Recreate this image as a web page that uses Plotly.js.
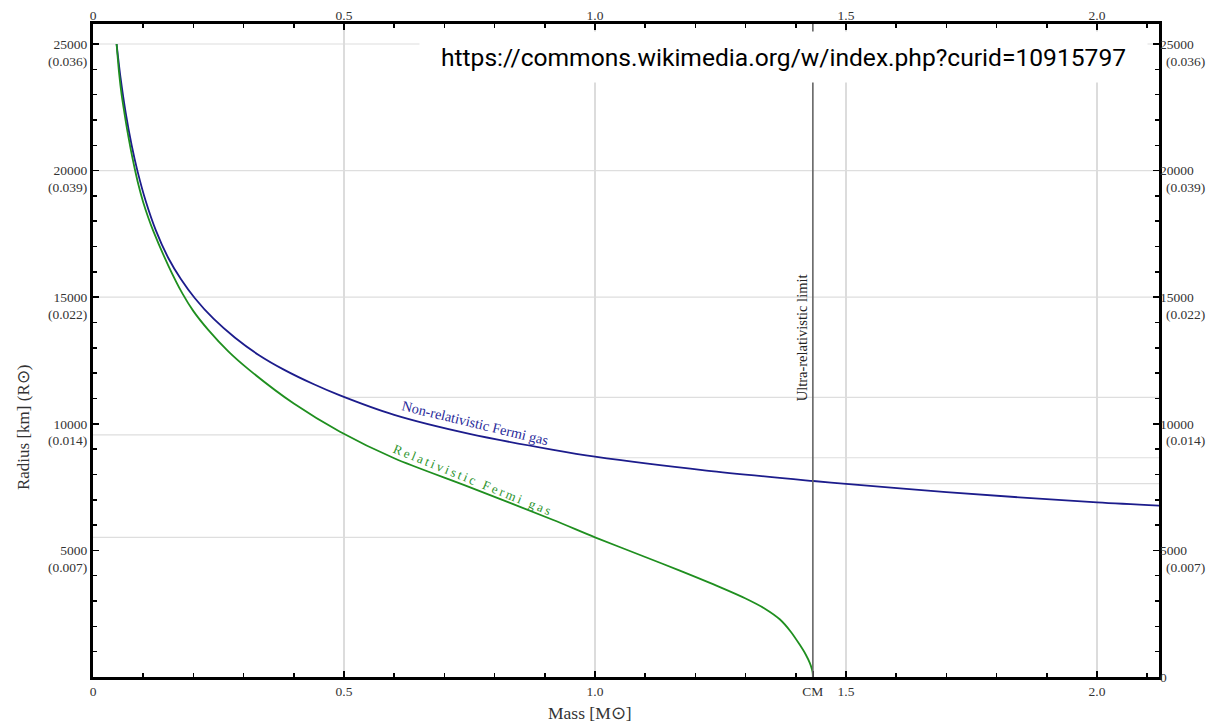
<!DOCTYPE html>
<html>
<head>
<meta charset="utf-8">
<script src="https://cdn.plot.ly/plotly-3.0.1.min.js"></script>
<style>html,body{margin:0;padding:0;background:#fff;}#chart{width:1216px;height:724px;}</style>
</head>
<body>
<div id="chart"></div>
<script>
// ---- data ----
const massNonRel = [0.047, 0.055, 0.065, 0.077, 0.089, 0.105, 0.125, 0.15, 0.175, 0.203, 0.24, 0.283, 0.33, 0.382, 0.44, 0.492, 0.6, 0.75, 0.917, 1.0, 1.222, 1.435, 1.5, 1.7, 2.0, 2.125];
const radiusNonRel = [25000, 23650, 22300, 21000, 19950, 18800, 17650, 16550, 15720, 14960, 14150, 13400, 12720, 12120, 11560, 11120, 10350, 9600, 8970, 8700, 8150, 7740, 7625, 7300, 6895, 6770];

const massRel = [0.047, 0.052, 0.057, 0.062, 0.068, 0.075, 0.082, 0.09, 0.1, 0.11, 0.12, 0.15, 0.178, 0.2, 0.23, 0.27, 0.31, 0.4, 0.492, 0.6, 0.75, 0.917, 1.0, 1.1, 1.169, 1.25, 1.3, 1.34, 1.368, 1.39, 1.408, 1.42, 1.428, 1.432, 1.4335, 1.434];
const radiusRel = [25000, 23850, 23000, 22350, 21620, 20860, 20180, 19480, 18750, 18150, 17620, 16250, 15150, 14450, 13700, 12850, 12150, 10800, 9688, 8640, 7500, 6200, 5517, 4740, 4200, 3540, 3100, 2680, 2280, 1790, 1270, 880, 550, 320, 170, 0];

const chandrasekharMass = 1.434;

const xTickVals = [0, 0.5, 1.0, 1.434, 1.5, 2.0];
const xTickText = ['0', '0.5', '1.0', 'CM', '1.5', '2.0'];
const xTopTickVals = [0, 0.5, 1.0, 1.5, 2.0];
const xTopTickText = ['0', '0.5', '1.0', '1.5', '2.0'];

const yTickVals = [0, 5000, 10000, 15000, 20000, 25000];
const yTickKmLeft = ['', '5000', '10000', '15000', '20000', '25000'];
const yTickKmRight = ['0', '5000', '10000', '15000', '20000', '25000'];
const yTickSolar = ['', '(0.007)', '(0.014)', '(0.022)', '(0.039)', '(0.036)'];

const gridFullY = [15000, 20000, 25000];
const gridSegX0 = [0, 0, 0.5, 1.0, 1.5];
const gridSegX1 = [0.5, 1.0, 2.1235, 2.1235, 2.1235];
const gridSegY = [9560, 5517, 11040, 8660, 7640];

const labelNonRel = 'Non-relativistic Fermi gas';
const labelRel = 'Relativistic Fermi gas';
const labelLimit = 'Ultra-relativistic limit';
const sourceText = 'https://commons.wikimedia.org/w/index.php?curid=10915797';

// ---- chart ----
const serif = 'Liberation Serif, Times New Roman, serif';
const xRange = [0, 2.1235];
const yRange = [0, 25790];
const spaced = s => s.split('').join('\u2009');

const traces = [
  {x: massNonRel, y: radiusNonRel, mode: 'lines', line: {color: '#1c1c8c', width: 1.8, shape: 'spline', smoothing: 0.8}, hoverinfo: 'skip'},
  {x: massRel, y: radiusRel, mode: 'lines', line: {color: '#1f8f1f', width: 1.8, shape: 'spline', smoothing: 0.8}, hoverinfo: 'skip'},
  {x: [0], y: [0], xaxis: 'x2', yaxis: 'y2', mode: 'markers', marker: {opacity: 0}, hoverinfo: 'skip'}
];

const shapes = [];
gridFullY.forEach(v => shapes.push({type: 'line', xref: 'paper', x0: 0, x1: 1, yref: 'y', y0: v, y1: v, line: {color: '#dedede', width: 1.2}, layer: 'below'}));
gridSegY.forEach((v, i) => shapes.push({type: 'line', xref: 'x', x0: gridSegX0[i], x1: gridSegX1[i], yref: 'y', y0: v, y1: v, line: {color: '#dedede', width: 1.2}, layer: 'below'}));
shapes.push({type: 'line', xref: 'x', x0: chandrasekharMass, x1: chandrasekharMass, yref: 'paper', y0: 0, y1: 1, line: {color: '#666666', width: 1.6}, layer: 'above'});

const tickFont = {family: serif, size: 13.5, color: '#333'};
const annotations = [];
yTickVals.forEach((v, i) => {
  if (!yTickSolar[i]) return;
  annotations.push({xref: 'paper', x: 0, xanchor: 'right', xshift: -4, yref: 'y', y: v, yanchor: 'middle', yshift: -17, text: yTickSolar[i], showarrow: false, font: tickFont});
  annotations.push({xref: 'paper', x: 1, xanchor: 'left', xshift: 5, yref: 'y', y: v, yanchor: 'middle', yshift: -17, text: yTickSolar[i], showarrow: false, font: tickFont});
});
annotations.push(
  {xref: 'x', x: 0.762, yref: 'y', y: 10032, text: labelNonRel, showarrow: false, textangle: 13.6, font: {family: serif, size: 14.3, color: '#2a2a9a'}},
  {xref: 'x', x: 0.755, yref: 'y', y: 7820, text: spaced(labelRel), showarrow: false, textangle: 22, font: {family: serif, size: 13, color: '#2e952e'}},
  {xref: 'x', x: chandrasekharMass, xshift: -10, yref: 'y', y: 13410, text: labelLimit, showarrow: false, textangle: -90, font: {family: serif, size: 14.5, color: '#222'}},
  {xref: 'paper', x: -0.0652, xanchor: 'center', yref: 'paper', y: 0.382, yanchor: 'middle', text: 'Radius [km] (R\u2299)', showarrow: false, textangle: -90, font: {family: serif, size: 17, color: '#333'}},
  {xref: 'paper', x: 0.466, xanchor: 'center', yref: 'paper', y: -0.055, yanchor: 'middle', text: 'Mass [M\u2299]', showarrow: false, font: {family: serif, size: 17.5, color: '#333'}},
  {xref: 'paper', x: 0.6473, xanchor: 'center', yref: 'paper', y: 0.9495, yanchor: 'middle', text: sourceText, showarrow: false, bgcolor: '#ffffff', width: 727, height: 50, align: 'center', valign: 'middle', borderpad: 0, font: {family: 'Roboto, Open Sans, sans-serif', size: 24.6, color: '#000'}}
);

const layout = {
  width: 1216, height: 724,
  margin: {l: 93, r: 57, t: 24, b: 47},
  paper_bgcolor: '#fff', plot_bgcolor: '#fff',
  showlegend: false,
  font: {family: serif},
  xaxis: {
    range: xRange, tickmode: 'array', tickvals: xTickVals, ticktext: xTickText,
    ticks: 'inside', ticklen: 6, tickwidth: 1.5, tickcolor: '#000',
    showline: true, linewidth: 3, linecolor: '#000', mirror: true,
    showgrid: true, gridcolor: '#dcdcdc', gridwidth: 1.2, zeroline: false,
    tickfont: tickFont,
    minor: {tickmode: 'linear', tick0: 0, dtick: 0.1, ticks: 'inside', ticklen: 4, tickwidth: 1.5, tickcolor: '#000', showgrid: false}
  },
  yaxis: {
    range: yRange, tickmode: 'array', tickvals: yTickVals, ticktext: yTickKmLeft,
    ticks: 'inside', ticklen: 6, tickwidth: 1.5, tickcolor: '#000',
    showline: true, linewidth: 3, linecolor: '#000', mirror: true,
    showgrid: false, zeroline: false, tickfont: tickFont,
    minor: {tickmode: 'linear', tick0: 0, dtick: 1000, ticks: 'inside', ticklen: 4, tickwidth: 1.5, tickcolor: '#000', showgrid: false}
  },
  xaxis2: {
    overlaying: 'x', side: 'top', anchor: 'y', range: xRange,
    tickmode: 'array', tickvals: xTopTickVals, ticktext: xTopTickText,
    ticks: 'inside', ticklen: 6, tickwidth: 1.5, tickcolor: '#000',
    showline: false, showgrid: false, zeroline: false, tickfont: tickFont,
    minor: {tickmode: 'linear', tick0: 0, dtick: 0.1, ticks: 'inside', ticklen: 4, tickwidth: 1.5, tickcolor: '#000', showgrid: false}
  },
  yaxis2: {
    overlaying: 'y', side: 'right', anchor: 'x', range: yRange,
    tickmode: 'array', tickvals: yTickVals, ticktext: yTickKmRight,
    ticks: 'inside', ticklen: 6, tickwidth: 1.5, tickcolor: '#000',
    showline: false, showgrid: false, zeroline: false, tickfont: tickFont,
    minor: {tickmode: 'linear', tick0: 0, dtick: 1000, ticks: 'inside', ticklen: 4, tickwidth: 1.5, tickcolor: '#000', showgrid: false}
  },
  shapes: shapes,
  annotations: annotations
};

Plotly.newPlot('chart', traces, layout, {displayModeBar: false, staticPlot: true});
</script>
</body>
</html>
